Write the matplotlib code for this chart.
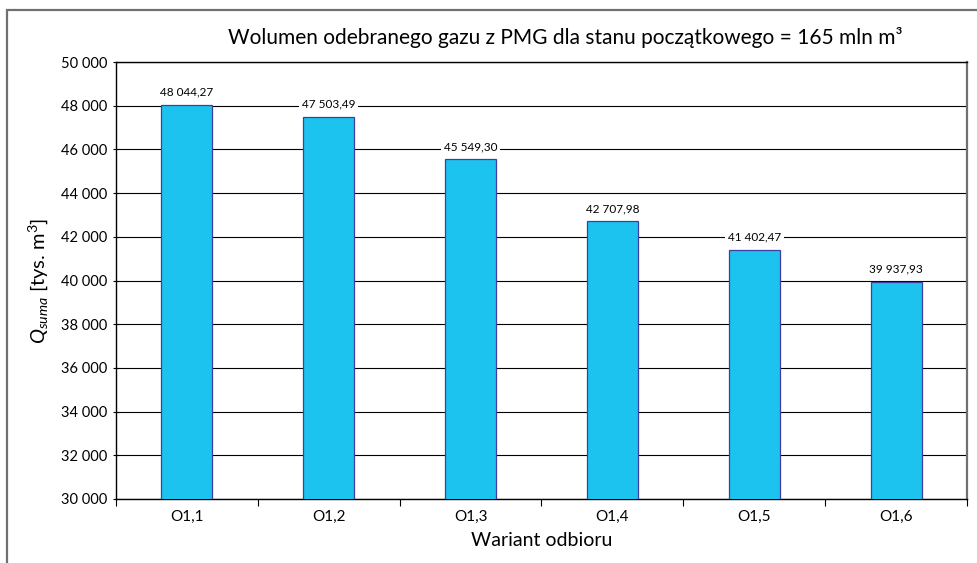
import numpy as np
import matplotlib
matplotlib.use('Agg')
import matplotlib.pyplot as plt
from matplotlib.patches import Rectangle
from matplotlib.ticker import FuncFormatter, FixedLocator

plt.rcParams['font.family'] = ['Lato', 'DejaVu Sans']
plt.rcParams['mathtext.fontset'] = 'custom'
plt.rcParams['mathtext.rm'] = 'Lato'
plt.rcParams['mathtext.it'] = 'Lato:italic'

# data
warianty = ['O1,1', 'O1,2', 'O1,3', 'O1,4', 'O1,5', 'O1,6']
q_suma = [48044.27, 47503.49, 45549.30, 42707.98, 41402.47, 39937.93]
y_ticks = [30000, 32000, 34000, 36000, 38000, 40000, 42000, 44000, 46000, 48000, 50000]


def pl_num(v, dec=0):
    s = f'{v:,.{dec}f}'
    return s.replace(',', ' ').replace('.', ',')


fig = plt.figure(figsize=(9.77, 5.63), dpi=100)
ax = fig.add_axes([116/977, 1-499/563, (967-116)/977, (499-62)/563])

# outer frame of the chart object
fig.patches.append(Rectangle((7/977, -0.05), 1.2, 1 - 10/563 + 0.05, transform=fig.transFigure,
                             fill=False, edgecolor='#707070', linewidth=1.6))

x = np.arange(len(warianty))
ax.bar(x, q_suma, width=0.36, color='#1BC3EE', edgecolor='#3F3F9F', linewidth=0.9, zorder=3)

ax.set_ylim(30000, 50000)
ax.set_xlim(-0.5, len(warianty) - 0.5)
ax.set_yticks(y_ticks)
ax.yaxis.set_major_formatter(FuncFormatter(lambda v, p: pl_num(v)))
ax.grid(axis='y', color='black', linewidth=0.8, zorder=0)

ax.set_xticks(x)
ax.set_xticklabels(warianty)
ax.xaxis.set_minor_locator(FixedLocator(np.arange(-0.5, len(warianty), 1.0)))
ax.tick_params(axis='x', which='major', length=0, labelsize=11, pad=8)
ax.tick_params(axis='x', which='minor', length=5, direction='out', width=0.8)
ax.tick_params(axis='y', which='major', length=5, direction='inout', width=0.8, labelsize=10.5)

for side in ['left', 'bottom', 'top']:
    ax.spines[side].set_color('black')
    ax.spines[side].set_linewidth(1.0)
ax.spines['right'].set_color('#707070')
ax.spines['right'].set_linewidth(1.6)

for xi, v in zip(x, q_suma):
    ax.annotate(pl_num(v, 2), (xi, v), xytext=(0, 5), textcoords='offset points',
                ha='center', va='bottom', fontsize=8.5,
                bbox=dict(boxstyle='square,pad=0.25', facecolor='white', edgecolor='none'),
                zorder=4)

fig.text(565/977, 1-38/563, 'Wolumen odebranego gazu z PMG dla stanu początkowego = 165 mln m³',
         ha='center', va='center', fontsize=15)
ax.set_xlabel('Wariant odbioru', fontsize=14, labelpad=6)
ax.set_ylabel(r'$Q_{suma}$ [tys. m$^3$]', fontsize=14.5, labelpad=8)

fig.savefig('out.png', dpi=100)
